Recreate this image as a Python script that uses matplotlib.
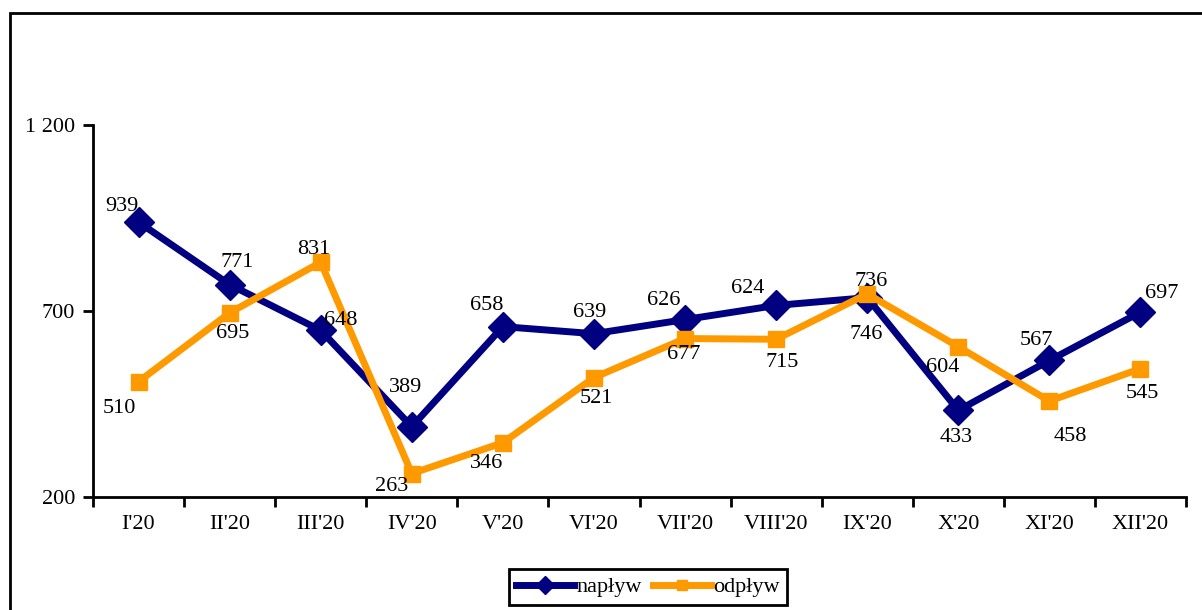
import matplotlib
matplotlib.use('Agg')
import matplotlib.pyplot as plt
from matplotlib.patches import Rectangle
from matplotlib.ticker import FuncFormatter

months = ["I'20", "II'20", "III'20", "IV'20", "V'20", "VI'20",
          "VII'20", "VIII'20", "IX'20", "X'20", "XI'20", "XII'20"]
naplyw = [939, 771, 648, 389, 658, 639, 677, 715, 736, 433, 567, 697]
odplyw = [510, 695, 831, 263, 346, 521, 626, 624, 746, 604, 458, 545]

# label offsets in pixels (dx, dy) relative to each point
naplyw_off = [(-17, 16), (8, 22), (20, 10), (-6, 39), (-16, 21), (-4, 21),
              (-1, -35), (6, -57), (4, 16), (-2, -27), (-13, 20), (21, 19)]
odplyw_off = [(-19, -27), (3, -21), (-7, 13), (-20, -13), (-16, -21), (2, -21),
              (-21, 38), (-28, 51), (-1, -41), (-16, -21), (21, -35), (2, -25)]

plt.rcParams['font.family'] = ['Liberation Serif', 'DejaVu Serif']
FS = 16

W, H = 1202, 610
fig = plt.figure(figsize=(W / 100, H / 100), dpi=100)
ax = fig.add_axes([93 / W, (H - 497) / H, (1186 - 93) / W, (497 - 125) / H])

x = list(range(len(months)))
ax.plot(x, naplyw, color='#000080', lw=5, marker='D', markersize=15,
        label='napływ', solid_joinstyle='miter', zorder=3)
ax.plot(x, odplyw, color='#FF9900', lw=5, marker='s', markersize=12,
        label='odpływ', solid_joinstyle='miter', zorder=3)

for i, v in enumerate(naplyw):
    ax.annotate(str(v), (i, v), xytext=naplyw_off[i], textcoords='offset pixels',
                ha='center', va='center', fontsize=FS, zorder=4)
for i, v in enumerate(odplyw):
    ax.annotate(str(v), (i, v), xytext=odplyw_off[i], textcoords='offset pixels',
                ha='center', va='center', fontsize=FS, zorder=4)

ax.set_xlim(-0.5, len(months) - 0.5)
ax.set_ylim(200, 1200)
ax.set_yticks([200, 700, 1200])
ax.yaxis.set_major_formatter(FuncFormatter(lambda v, p: f"{int(v):,}".replace(',', ' ')))
ax.set_xticks(x)
ax.set_xticklabels(months)
ax.set_xticks([i - 0.5 for i in range(len(months) + 1)], minor=True)
ax.tick_params(axis='x', which='major', length=0, pad=13, labelsize=FS)
ax.tick_params(axis='x', which='minor', length=7, width=2, direction='out')
ax.tick_params(axis='y', length=7, width=2, direction='out', pad=6, labelsize=FS)

for s in ['top', 'right']:
    ax.spines[s].set_visible(False)
for s in ['left', 'bottom']:
    ax.spines[s].set_linewidth(2)

leg = fig.legend(loc='center', bbox_to_anchor=(648 / W, (H - 587) / H), ncol=2,
                 fontsize=FS, frameon=True, fancybox=False, edgecolor='black',
                 framealpha=1, handlelength=2.6, handletextpad=0.1,
                 columnspacing=0.5, borderpad=0.35, borderaxespad=0,
                 markerscale=0.6)
leg.get_frame().set_linewidth(2)

# outer chart border (only left and top edges inside the image)
fig.patches.append(Rectangle((10 / W, -0.1), 1.2, (H - 13) / H + 0.1,
                             transform=fig.transFigure, fill=False,
                             edgecolor='black', lw=2))

fig.savefig('out.png', dpi=100)
